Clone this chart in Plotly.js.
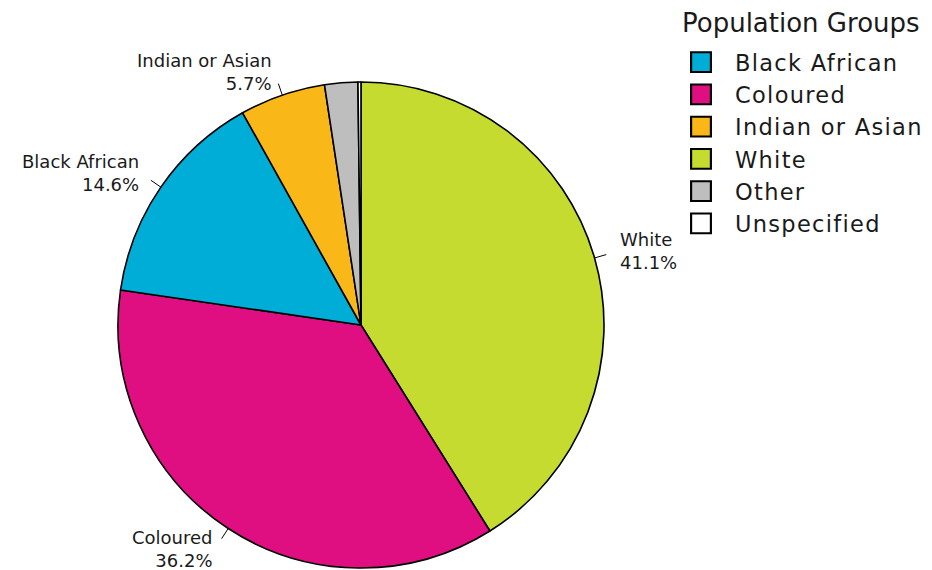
<!DOCTYPE html>
<html><head><meta charset="utf-8">
<script src="https://cdn.plot.ly/plotly-3.0.1.min.js"></script>
<style>html,body{margin:0;padding:0;background:#fff}
.legendtext{letter-spacing:1.3px}</style>
</head><body><div id="chart" style="width:932px;height:570px"></div>
<script>
// ---- data ----
const labels = ["White", "Coloured", "Black African", "Indian or Asian", "Other", "Unspecified"];
const values = [41.1, 36.2, 14.6, 5.7, 2.2, 0.2];
const colors = ["#C5DB2F", "#DF0E81", "#00ADD6", "#F9B818", "#BEBEBE", "#FFFFFF"];
const labelled = [true, true, true, true, false, false];
const legendOrder = ["Black African", "Coloured", "Indian or Asian", "White", "Other", "Unspecified"];
const legendTitle = "Population Groups";

// ---- geometry ----
const W = 932, H = 570;
const FONT = "DejaVu Sans, sans-serif";
const TXT = "#1a1a1a";
const dom = {x: [118 / W, 604 / W], y: [2 / H, 488 / H]};
const cx = W * (dom.x[0] + dom.x[1]) / 2;
const cy = H * (1 - (dom.y[0] + dom.y[1]) / 2);
const R = Math.min(W * (dom.x[1] - dom.x[0]), H * (dom.y[1] - dom.y[0])) / 2;
const total = values.reduce((a, b) => a + b, 0);
function pt(frac, r) {
  const t = 2 * Math.PI * frac;
  return {x: (cx + r * Math.sin(t)) / W, y: 1 - (cy - r * Math.cos(t)) / H, side: Math.sin(t)};
}
const shapes = [], annotations = [];
let cum = 0;
values.forEach((v, i) => {
  const mid = (cum + v / 2) / total;
  cum += v;
  if (!labelled[i]) return;
  const a = pt(mid, R), b = pt(mid, R * 1.05), c = pt(mid, R * 1.1);
  shapes.push({type: "line", xref: "paper", yref: "paper", x0: a.x, y0: a.y, x1: b.x, y1: b.y,
    line: {color: "#000", width: 1}});
  const left = c.side < 0;
  annotations.push({xref: "paper", yref: "paper", x: c.x, y: c.y, showarrow: false,
    xanchor: left ? "right" : "left", yanchor: "middle", align: left ? "right" : "left",
    text: labels[i] + "<br>" + values[i].toFixed(1) + "%",
    font: {family: FONT, size: 18, color: TXT}});
});
// legend heading
annotations.push({xref: "paper", yref: "paper", x: 680 / W, y: 1 - 23 / H, showarrow: false,
  xanchor: "left", yanchor: "middle", text: legendTitle,
  font: {family: FONT, size: 26, color: TXT}});

const legendVals = legendOrder.map(l => values[labels.indexOf(l)]);
const legendCols = legendOrder.map(l => colors[labels.indexOf(l)]);
const cxp = cx / W, cyp = 1 - cy / H;

const traces = [
  { // legend carrier (legend order), hidden under the main pie
    type: "pie", labels: legendOrder, values: legendVals, sort: false,
    marker: {colors: legendCols, line: {color: "#000", width: 1.3}},
    domain: {x: [cxp - 0.0003, cxp + 0.0003], y: [cyp - 0.0003, cyp + 0.0003]},
    textinfo: "none", hoverinfo: "skip", showlegend: true
  },
  {
    type: "pie", labels: labels, values: values, sort: false, direction: "clockwise", rotation: 0,
    marker: {colors: colors, line: {color: "#000", width: 1.6}},
    domain: dom, textinfo: "none", showlegend: false
  }
];

const layout = {
  width: W, height: H,
  margin: {l: 0, r: 0, t: 0, b: 0},
  paper_bgcolor: "#fff",
  font: {family: FONT, color: TXT},
  showlegend: true,
  legend: {x: 679 / W, y: 1 - 41 / H, xanchor: "left", yanchor: "top", bgcolor: "rgba(0,0,0,0)",
    itemwidth: 46,
    font: {family: FONT, size: 22.5, color: TXT}},
  shapes: shapes, annotations: annotations
};

Plotly.newPlot("chart", traces, layout, {displayModeBar: false}).then(() => {
  document.querySelectorAll(".legendpoints path").forEach(p => {
    const t = p.getAttribute("transform") || "";
    p.setAttribute("transform", "translate(-6,0) " + t + " scale(1.65)");
  });
});
</script></body></html>
